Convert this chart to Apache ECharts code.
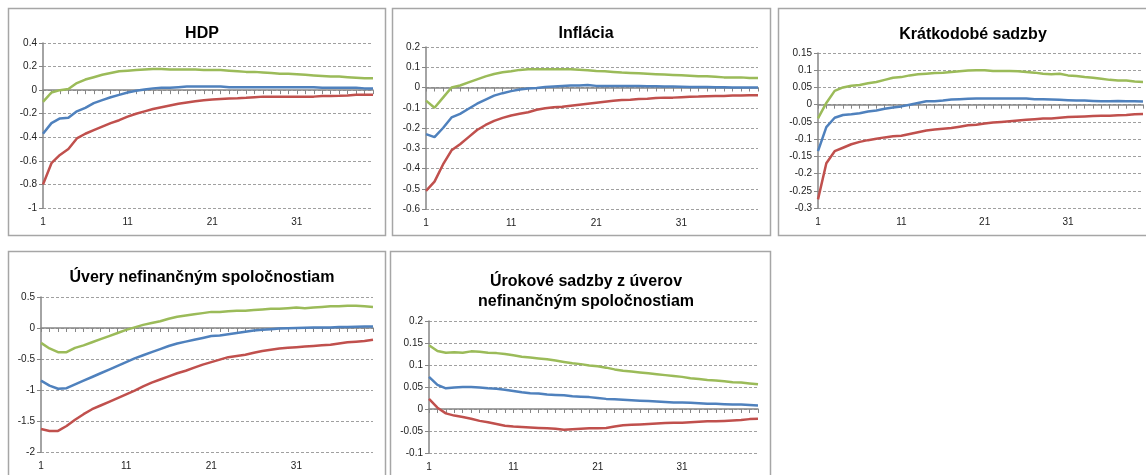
<!DOCTYPE html>
<html>
<head>
<meta charset="utf-8">
<script src="https://cdn.jsdelivr.net/npm/echarts@6/dist/echarts.min.js"></script>
<style>
  html, body { margin: 0; padding: 0; background: #fff; }
  #chart { width: 1146px; height: 475px; }
</style>
</head>
<body>
<div id="chart"></div>
<script>
// horizon 1..40
const periods = Array.from({ length: 40 }, (_, i) => String(i + 1));

const titles = [
  'HDP',
  'Inflácia',
  'Krátkodobé sadzby',
  'Úvery nefinančným spoločnostiam',
  'Úrokové sadzby z úverov\nnefinančným spoločnostiam',
];

// y axis ranges [min, max, step]
const yRanges = [
  [-1, 0.4, 0.2],
  [-0.6, 0.2, 0.1],
  [-0.3, 0.15, 0.05],
  [-2, 0.5, 0.5],
  [-0.1, 0.2, 0.05],
];

const hdpUpper = [-0.1, -0.02, 0, 0.01, 0.06, 0.09, 0.11, 0.13, 0.145, 0.16, 0.165, 0.17, 0.175, 0.18, 0.18, 0.175, 0.175, 0.175, 0.175, 0.17,
  0.17, 0.17, 0.165, 0.16, 0.155, 0.155, 0.15, 0.145, 0.14, 0.14, 0.135, 0.13, 0.125, 0.12, 0.115, 0.115, 0.11, 0.105, 0.1, 0.1];
const hdpMid = [-0.37, -0.28, -0.24, -0.235, -0.18, -0.15, -0.11, -0.085, -0.06, -0.04, -0.02, -0.005, 0.005, 0.015, 0.02, 0.02, 0.025, 0.03, 0.03, 0.03,
  0.03, 0.03, 0.025, 0.025, 0.025, 0.025, 0.025, 0.025, 0.025, 0.025, 0.025, 0.025, 0.025, 0.02, 0.02, 0.02, 0.02, 0.02, 0.015, 0.015];
const hdpLower = [-0.8, -0.62, -0.55, -0.5, -0.41, -0.37, -0.34, -0.31, -0.28, -0.255, -0.225, -0.2, -0.18, -0.16, -0.145, -0.13, -0.115, -0.105, -0.095, -0.085,
  -0.08, -0.075, -0.07, -0.068, -0.065, -0.06, -0.055, -0.055, -0.055, -0.055, -0.055, -0.055, -0.055, -0.05, -0.05, -0.048, -0.045, -0.04, -0.04, -0.04];

const inflUpper = [-0.065, -0.1, -0.05, 0, 0.01, 0.025, 0.04, 0.055, 0.067, 0.075, 0.08, 0.087, 0.09, 0.09, 0.09, 0.09, 0.09, 0.09, 0.088, 0.085,
  0.082, 0.08, 0.077, 0.074, 0.072, 0.07, 0.068, 0.066, 0.064, 0.062, 0.06, 0.058, 0.056, 0.055, 0.053, 0.05, 0.05, 0.05, 0.047, 0.047];
const inflMid = [-0.23, -0.245, -0.2, -0.148, -0.13, -0.105, -0.08, -0.06, -0.04, -0.028, -0.018, -0.01, -0.005, -0.002, 0.002, 0.005, 0.008, 0.01, 0.01, 0.012,
  0.008, 0.008, 0.008, 0.008, 0.007, 0.007, 0.006, 0.006, 0.005, 0.005, 0.004, 0.003, 0.002, 0.002, 0.001, 0.001, 0, 0, 0, 0];
const inflLower = [-0.51, -0.465, -0.38, -0.31, -0.28, -0.245, -0.21, -0.185, -0.165, -0.15, -0.138, -0.13, -0.122, -0.11, -0.103, -0.098, -0.095, -0.09, -0.085, -0.08,
  -0.075, -0.07, -0.066, -0.062, -0.06, -0.057, -0.055, -0.052, -0.05, -0.05, -0.048, -0.046, -0.045, -0.043, -0.042, -0.042, -0.04, -0.04, -0.038, -0.038];

const kratUpper = [-0.04, 0.005, 0.04, 0.05, 0.055, 0.057, 0.062, 0.066, 0.072, 0.078, 0.08, 0.085, 0.088, 0.09, 0.092, 0.093, 0.095, 0.097, 0.099, 0.1,
  0.1, 0.098, 0.098, 0.098, 0.097, 0.095, 0.093, 0.09, 0.088, 0.09, 0.085, 0.083, 0.08, 0.078, 0.075, 0.072, 0.07, 0.07, 0.067, 0.066];
const kratMid = [-0.135, -0.065, -0.038, -0.03, -0.028, -0.025, -0.02, -0.017, -0.012, -0.008, -0.005, 0, 0.005, 0.01, 0.01, 0.012, 0.015, 0.016, 0.017, 0.018,
  0.018, 0.018, 0.018, 0.018, 0.018, 0.018, 0.016, 0.016, 0.015, 0.014, 0.013, 0.012, 0.012, 0.011, 0.01, 0.01, 0.011, 0.01, 0.01, 0.009];
const kratLower = [-0.275, -0.17, -0.135, -0.125, -0.115, -0.108, -0.103, -0.099, -0.095, -0.092, -0.09, -0.085, -0.08, -0.075, -0.072, -0.07, -0.068, -0.064, -0.06, -0.058,
  -0.055, -0.052, -0.05, -0.048, -0.046, -0.044, -0.042, -0.04, -0.04, -0.038, -0.036, -0.035, -0.034, -0.033, -0.032, -0.032, -0.031, -0.03, -0.028, -0.027];

const uverUpper = [-0.24, -0.33, -0.39, -0.39, -0.32, -0.28, -0.23, -0.18, -0.13, -0.08, -0.03, 0.01, 0.05, 0.08, 0.11, 0.15, 0.18, 0.2, 0.22, 0.24,
  0.26, 0.26, 0.27, 0.28, 0.28, 0.29, 0.3, 0.31, 0.31, 0.32, 0.33, 0.32, 0.33, 0.34, 0.35, 0.35, 0.36, 0.36, 0.35, 0.34];
const uverMid = [-0.85, -0.93, -0.98, -0.97, -0.91, -0.85, -0.79, -0.73, -0.67, -0.61, -0.55, -0.49, -0.44, -0.39, -0.34, -0.29, -0.25, -0.22, -0.19, -0.16,
  -0.13, -0.12, -0.1, -0.08, -0.06, -0.04, -0.03, -0.02, -0.01, -0.005, 0, 0.005, 0.01, 0.01, 0.01, 0.015, 0.015, 0.02, 0.025, 0.025];
const uverLower = [-1.63, -1.66, -1.66, -1.58, -1.48, -1.39, -1.31, -1.25, -1.19, -1.13, -1.07, -1.01, -0.94, -0.88, -0.83, -0.78, -0.73, -0.69, -0.64, -0.59,
  -0.55, -0.51, -0.47, -0.45, -0.43, -0.4, -0.37, -0.35, -0.33, -0.32, -0.31, -0.3, -0.29, -0.28, -0.27, -0.25, -0.23, -0.22, -0.21, -0.19];

const urokUpper = [0.145, 0.132, 0.128, 0.129, 0.128, 0.131, 0.13, 0.128, 0.127, 0.125, 0.122, 0.119, 0.117, 0.115, 0.113, 0.11, 0.107, 0.104, 0.102, 0.099,
  0.097, 0.094, 0.09, 0.087, 0.085, 0.083, 0.081, 0.079, 0.077, 0.075, 0.073, 0.07, 0.068, 0.066, 0.065, 0.063, 0.061, 0.06, 0.058, 0.056];
const urokMid = [0.073, 0.055, 0.047, 0.049, 0.05, 0.05, 0.049, 0.047, 0.046, 0.044, 0.041, 0.038, 0.036, 0.035, 0.033, 0.032, 0.031, 0.029, 0.028, 0.027,
  0.025, 0.023, 0.022, 0.021, 0.02, 0.019, 0.018, 0.017, 0.016, 0.015, 0.015, 0.014, 0.013, 0.012, 0.012, 0.011, 0.01, 0.01, 0.009, 0.008];
const urokLower = [0.023, 0.003, -0.01, -0.015, -0.018, -0.022, -0.027, -0.03, -0.034, -0.038, -0.04, -0.041, -0.042, -0.043, -0.044, -0.045, -0.047, -0.046, -0.045, -0.044,
  -0.044, -0.043, -0.04, -0.037, -0.036, -0.035, -0.034, -0.033, -0.032, -0.031, -0.031, -0.03, -0.029, -0.028, -0.028, -0.027, -0.026, -0.025, -0.023, -0.022];

const panelData = [
  [hdpUpper, hdpMid, hdpLower],
  [inflUpper, inflMid, inflLower],
  [kratUpper, kratMid, kratLower],
  [uverUpper, uverMid, uverLower],
  [urokUpper, urokMid, urokLower],
];

const lineColors = ['#9bbb59', '#4f81bd', '#c0504d'];

// layout: plot area and frame of each panel
const plots = [
  { left: 43, top: 43, width: 330, height: 165 },
  { left: 426, top: 47, width: 332, height: 162 },
  { left: 818, top: 53, width: 325, height: 155 },
  { left: 41, top: 297, width: 332, height: 155 },
  { left: 429, top: 321, width: 329, height: 132 },
];
const frames = [
  { x: 8.5, y: 8.5, w: 377, h: 227 },
  { x: 392.5, y: 8.5, w: 378, h: 227 },
  { x: 778.5, y: 8.5, w: 380, h: 227 },
  { x: 8.5, y: 251.5, w: 377, h: 240 },
  { x: 390.5, y: 251.5, w: 380, h: 240 },
];
const titlePos = [
  { x: 197, y: 19 },
  { x: 581, y: 19 },
  { x: 968, y: 20 },
  { x: 197, y: 263 },
  { x: 581, y: 267 },
];

const chart = echarts.init(document.getElementById('chart'));

const axisGray = '#868686';
const font = '"Liberation Sans", Arial, sans-serif';

const grid = [], xAxis = [], yAxis = [], series = [], title = [];

plots.forEach((p, i) => {
  grid.push(Object.assign({ containLabel: false }, p));
  title.push({
    text: titles[i],
    left: titlePos[i].x,
    top: titlePos[i].y,
    textAlign: 'center',
    textStyle: { fontFamily: font, fontSize: 16, fontWeight: 'bold', color: '#000', lineHeight: 20 },
  });
  // zero line with category ticks
  xAxis.push({
    type: 'category', gridIndex: i, data: periods, boundaryGap: false,
    axisLine: { onZero: true, lineStyle: { color: axisGray, width: 1.5 } },
    axisTick: { interval: 0, length: 4, lineStyle: { color: axisGray } },
    axisLabel: { show: false },
  });
  // labels at the bottom
  xAxis.push({
    type: 'category', gridIndex: i, data: periods, boundaryGap: false, position: 'bottom',
    axisLine: { show: false, onZero: false },
    axisTick: { show: false },
    axisLabel: { interval: 9, margin: 9, fontFamily: font, fontSize: 10, color: '#222' },
  });
  const [mn, mx, step] = yRanges[i];
  yAxis.push({
    type: 'value', gridIndex: i, min: mn, max: mx, interval: step,
    axisLine: { show: true, lineStyle: { color: axisGray, width: 1.5 } },
    axisTick: { show: true, length: 4, lineStyle: { color: axisGray } },
    axisLabel: { margin: 6, fontFamily: font, fontSize: 10, color: '#222' },
    splitLine: { lineStyle: { color: '#a0a0a0', type: [3, 2], width: 1 } },
  });
  panelData[i].forEach((vals, k) => {
    series.push({
      type: 'line', xAxisIndex: 2 * i, yAxisIndex: i, data: vals,
      symbol: 'none', smooth: false, z: 3 + (2 - k),
      lineStyle: { color: lineColors[k], width: 2.5 },
      silent: true, animation: false,
    });
  });
});

chart.setOption({
  animation: false,
  title, grid, xAxis, yAxis, series,
  graphic: frames.map((f) => ({
    type: 'rect', silent: true, z: -1,
    shape: { x: f.x, y: f.y, width: f.w, height: f.h },
    style: { fill: 'none', stroke: '#a6a6a6', lineWidth: 1.5 },
  })),
});
</script>
</body>
</html>
